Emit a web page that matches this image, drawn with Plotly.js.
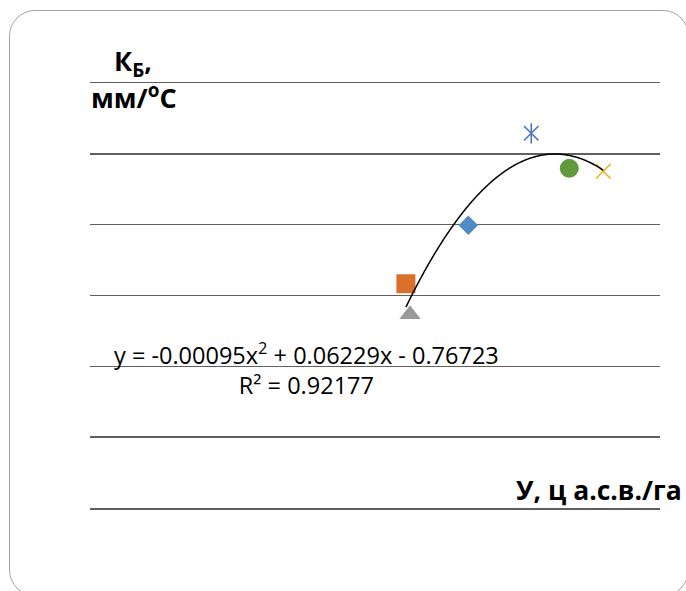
<!DOCTYPE html>
<html>
<head>
<meta charset="utf-8">
<script src="https://cdn.plot.ly/plotly-3.0.1.min.js"></script>
<style>
  html, body { margin: 0; padding: 0; background: #ffffff; overflow: hidden; }
  #wrap { position: relative; width: 686px; height: 591px; overflow: hidden; }
  /* rounded frame around the chart */
  #frame {
    position: absolute; left: 9px; top: 10px; width: 680px; height: 586px;
    box-sizing: border-box; border: 1.5px solid #a3a3a3; border-radius: 26px;
  }
  #chart { position: absolute; left: 0; top: 0; width: 686px; height: 591px; }
</style>
</head>
<body>
<div id="wrap">
  <div id="frame"></div>
  <div id="chart"></div>
</div>
<script>
// Yield (У, ц а.с.в./га) and coefficient К_Б (мм/°C), one point per variant
const yieldValues = [26.68, 22.28, 22.57, 36.20, 31.12, 33.80];
const kbValues    = [0.205, 0.165, 0.144, 0.242, 0.268, 0.244];

// Polynomial trend y = a·x² + b·x + c and its R²
const trendCoef = [-0.00095, 0.06229, -0.76723];
const trendR2 = 0.92177;

// Axis titles
const yTitleTop = 'К<sub>Б</sub>,';
const yTitleBottom = 'мм/<sup>o</sup>C';
const xTitle = 'У, ц а.с.в./га';

// Marker look for each point, in the same order as the values
const markerStyles = [
  { symbol: 'diamond',       size: 15,   color: '#4f8bc6' },
  { symbol: 'square',        size: 19,   color: '#d9712d' },
  { symbol: 'triangle-up',   size: 18.5, color: '#999999' },
  { symbol: 'x-thin-open',   size: 14.5, color: '#e9b220', line: 1.6 },
  { symbol: 'asterisk',      size: 14.5, color: '#4472c4', line: 1.5 },
  { symbol: 'circle',        size: 19,   color: '#62993f' }
];

const traces = [];
yieldValues.forEach((xv, i) => {
  const st = markerStyles[i];
  const syms = st.symbol === 'asterisk'
    ? ['x-thin-open', 'line-ns-open']   // star: a vertical stroke crossed by a thin X
    : [st.symbol];
  syms.forEach(sym => {
    traces.push({
      type: 'scatter', mode: 'markers', x: [xv], y: [kbValues[i]],
      marker: st.line
        ? { symbol: sym, size: st.size, color: st.color, line: { color: st.color, width: st.line } }
        : { symbol: sym, size: st.size, color: st.color, line: { width: 0 } },
      hoverinfo: 'skip'
    });
  });
});

// Trend curve across the range of the observed yields
const xMin = Math.min(...yieldValues), xMax = Math.max(...yieldValues);
const tx = [], ty = [];
for (let k = 0; k <= 200; k++) {
  const x = xMin + (xMax - xMin) * k / 200;
  tx.push(x);
  ty.push(trendCoef[0] * x * x + trendCoef[1] * x + trendCoef[2]);
}
traces.push({
  type: 'scatter', mode: 'lines', x: tx, y: ty,
  line: { color: '#000000', width: 1.5, shape: 'spline' }, hoverinfo: 'skip'
});

function fmtSigned(v) {
  return (v < 0 ? ' - ' : ' + ') + Math.abs(v).toFixed(5);
}
const eqText = 'y = ' + trendCoef[0].toFixed(5) + 'x<sup>2</sup>' +
  fmtSigned(trendCoef[1]) + 'x' + fmtSigned(trendCoef[2]) +
  '<br>R² = ' + trendR2.toFixed(5);

const yLo = 0.01145, yHi = 0.30244;
const gridColor = '#606060';
const textFont = '"Open Sans", Lato, sans-serif';

// pixel helpers for placing the free texts inside the 570×425 plot area
const px = v => (v - 90) / 570;
const py = v => (508.3 - v) / 425;

const layout = {
  width: 686, height: 591,
  margin: { l: 90, r: 26, t: 83, b: 83, pad: 0 },
  paper_bgcolor: 'rgba(0,0,0,0)',
  plot_bgcolor: 'rgba(0,0,0,0)',
  showlegend: false,
  font: { family: textFont, color: '#000000' },
  xaxis: {
    range: [0, 40.2], showgrid: false, zeroline: false,
    showticklabels: false, ticks: '', showline: true, mirror: true,
    linecolor: gridColor, linewidth: 1.5
  },
  yaxis: {
    range: [yLo, yHi], tick0: yLo, dtick: (yHi - yLo) / 6,
    showgrid: true, gridcolor: gridColor, gridwidth: 1.5,
    zeroline: false, showticklabels: false, ticks: '', showline: false
  },
  annotations: [
    {
      text: '<b>' + yTitleTop + '</b>', xref: 'paper', yref: 'paper',
      x: px(112), y: py(63), xanchor: 'left', yanchor: 'middle',
      showarrow: false, font: { size: 27, family: textFont }
    },
    {
      text: '<b>' + yTitleBottom + '</b>', xref: 'paper', yref: 'paper',
      x: px(89), y: py(97), xanchor: 'left', yanchor: 'middle',
      showarrow: false, font: { size: 27, family: textFont }
    },
    {
      text: eqText, xref: 'paper', yref: 'paper',
      x: px(306), y: py(369), xanchor: 'center', yanchor: 'middle',
      align: 'center', showarrow: false, font: { size: 23.5, family: textFont }
    },
    {
      text: '<b>' + xTitle + '</b>', xref: 'paper', yref: 'paper',
      x: px(684), y: py(490), xanchor: 'right', yanchor: 'middle',
      showarrow: false, font: { size: 26.5, family: textFont }
    }
  ]
};

Plotly.newPlot('chart', traces, layout, { staticPlot: true, displayModeBar: false });
</script>
</body>
</html>
